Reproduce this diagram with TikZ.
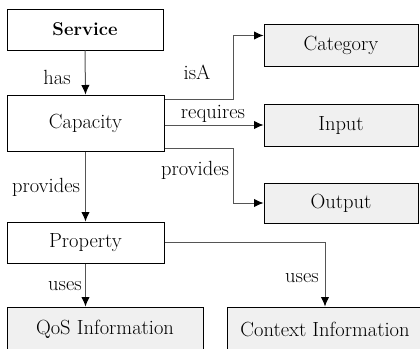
\documentclass[tikz,border=0pt]{standalone}
\usetikzlibrary{arrows.meta,calc}
\definecolor{boxfill}{HTML}{F0F0F0}
\definecolor{linegray}{HTML}{555555}
\begin{document}
\begin{tikzpicture}[x=1pt,y=-1pt,
  font=\fontsize{20.5}{23}\selectfont,
  whitebox/.style={draw=black,line width=1pt,fill=white,inner sep=0pt},
  graybox/.style={draw=black,line width=1pt,fill=boxfill,inner sep=0pt},
  conn/.style={draw=linegray,line width=1pt,-{Latex[length=9.5pt,width=8.5pt,color=black]}},
  lbl/.style={inner sep=0pt}]
\useasboundingbox (0,0) rectangle (420,348);
\clip (0,0) rectangle (420,348);
\node[whitebox,minimum width=156pt,minimum height=41pt,font=\fontsize{18.5}{20}\selectfont\bfseries] (service) at (85,29.5) {Service};
\node[whitebox,minimum width=157pt,minimum height=56pt] (capacity) at (85.5,123) {Capacity};
\node[whitebox,minimum width=157pt,minimum height=41pt] (property) at (85.5,242.5) {Property};
\node[graybox,minimum width=154pt,minimum height=42pt] (category) at (341,45) {Category};
\node[graybox,minimum width=154pt,minimum height=42pt] (input) at (341,125) {Input};
\node[graybox,minimum width=154pt,minimum height=40pt] (output) at (341,203) {Output};
\node[graybox,minimum width=196pt,minimum height=44pt] (qos) at (105,329) {QoS Information};
\node[graybox,minimum width=196pt,minimum height=44pt] (context) at (325,329) {Context Information};
\coordinate (isAs) at ($(capacity.north east)+(0,5)$);
\coordinate (isAe) at ($(category.north west)+(0,12)$);
\coordinate (provs) at ($(capacity.south east)+(0,-3)$);
\coordinate (bend) at (233,0);
\draw[conn] (service.south) -- (capacity.north);
\draw[conn] (isAs) -- (isAs -| bend) |- (isAe);
\draw[conn] (capacity.east |- input.west) -- (input.west);
\draw[conn] (provs) -- (provs -| bend) |- (output.west);
\draw[conn] (capacity.south) -- (property.north);
\draw[conn] (property.east) -| (context.north);
\draw[conn] (property.south) -- (property.south |- qos.north);
\node[lbl] (lhas) at (57,77) {has};
\node[lbl] (lisa) at (197,72) {isA};
\node[lbl] (lreq) at (213,114) {requires};
\node[lbl] (lprov1) at (195,170) {provides};
\node[lbl] (lprov2) at (46,187) {provides};
\node[lbl] (luses1) at (65,286) {uses};
\node[lbl] (luses2) at (302,278) {uses};
\end{tikzpicture}
\end{document}
